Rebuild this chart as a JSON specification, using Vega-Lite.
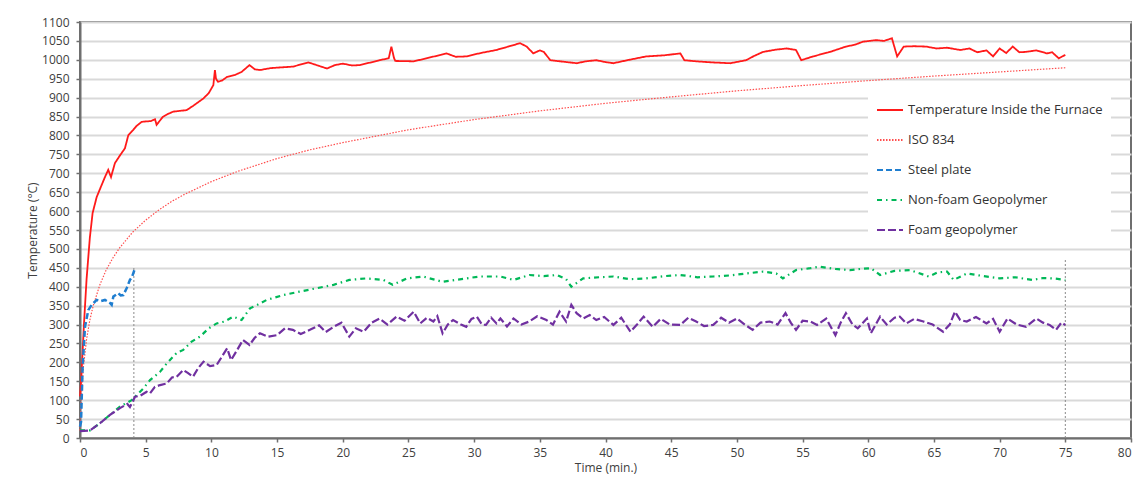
{
  "$schema": "https://vega.github.io/schema/vega-lite/v6.json",
  "width": 1051,
  "height": 416,
  "autosize": {"type": "none"},
  "padding": {"left": 80, "top": 22, "right": 6, "bottom": 42},
  "background": "white",
  "config": {
    "font": "Open Sans",
    "view": {"stroke": "#6f6f6f", "strokeWidth": 2},
    "axis": {"labelFont": "Open Sans", "labelFontSize": 12, "labelColor": "#404040", "titleFont": "Open Sans", "titleFontSize": 12, "titleFontWeight": "normal", "titleColor": "#404040", "domainColor": "#6f6f6f", "domainWidth": 2, "tickColor": "#6f6f6f", "tickSize": 4, "tickWidth": 1.5, "labelPadding": 5, "labelOverlap": false},
    "legend": {"orient": "none", "legendX": 788, "legendY": 66, "fillColor": "white", "padding": 8, "symbolType": "stroke", "symbolSize": 676, "symbolStrokeWidth": 2, "labelFont": "Open Sans", "labelFontSize": 13, "labelColor": "#333333", "rowPadding": 9, "labelOffset": 4, "labelLimit": 300}
  },
  "datasets": {
    "series": [
      {"t": 0, "v": 110, "s": "Temperature Inside the Furnace"},
      {"t": 0.1, "v": 160, "s": "Temperature Inside the Furnace"},
      {"t": 0.3, "v": 300, "s": "Temperature Inside the Furnace"},
      {"t": 0.5, "v": 420, "s": "Temperature Inside the Furnace"},
      {"t": 0.75, "v": 530, "s": "Temperature Inside the Furnace"},
      {"t": 0.96, "v": 595, "s": "Temperature Inside the Furnace"},
      {"t": 1.27, "v": 637, "s": "Temperature Inside the Furnace"},
      {"t": 1.6, "v": 665, "s": "Temperature Inside the Furnace"},
      {"t": 1.9, "v": 690, "s": "Temperature Inside the Furnace"},
      {"t": 2.15, "v": 709, "s": "Temperature Inside the Furnace"},
      {"t": 2.36, "v": 690, "s": "Temperature Inside the Furnace"},
      {"t": 2.66, "v": 727, "s": "Temperature Inside the Furnace"},
      {"t": 3.0, "v": 745, "s": "Temperature Inside the Furnace"},
      {"t": 3.42, "v": 766, "s": "Temperature Inside the Furnace"},
      {"t": 3.68, "v": 801, "s": "Temperature Inside the Furnace"},
      {"t": 4.06, "v": 815, "s": "Temperature Inside the Furnace"},
      {"t": 4.3, "v": 825, "s": "Temperature Inside the Furnace"},
      {"t": 4.69, "v": 836, "s": "Temperature Inside the Furnace"},
      {"t": 5.0, "v": 837, "s": "Temperature Inside the Furnace"},
      {"t": 5.4, "v": 838, "s": "Temperature Inside the Furnace"},
      {"t": 5.71, "v": 843, "s": "Temperature Inside the Furnace"},
      {"t": 5.83, "v": 828, "s": "Temperature Inside the Furnace"},
      {"t": 6.3, "v": 849, "s": "Temperature Inside the Furnace"},
      {"t": 6.7, "v": 857, "s": "Temperature Inside the Furnace"},
      {"t": 7.1, "v": 863, "s": "Temperature Inside the Furnace"},
      {"t": 7.6, "v": 865, "s": "Temperature Inside the Furnace"},
      {"t": 8.12, "v": 867, "s": "Temperature Inside the Furnace"},
      {"t": 8.6, "v": 878, "s": "Temperature Inside the Furnace"},
      {"t": 9.0, "v": 888, "s": "Temperature Inside the Furnace"},
      {"t": 9.4, "v": 898, "s": "Temperature Inside the Furnace"},
      {"t": 9.8, "v": 912, "s": "Temperature Inside the Furnace"},
      {"t": 10.15, "v": 933, "s": "Temperature Inside the Furnace"},
      {"t": 10.27, "v": 973, "s": "Temperature Inside the Furnace"},
      {"t": 10.35, "v": 950, "s": "Temperature Inside the Furnace"},
      {"t": 10.5, "v": 942, "s": "Temperature Inside the Furnace"},
      {"t": 10.8, "v": 945, "s": "Temperature Inside the Furnace"},
      {"t": 11.2, "v": 955, "s": "Temperature Inside the Furnace"},
      {"t": 11.8, "v": 960, "s": "Temperature Inside the Furnace"},
      {"t": 12.3, "v": 968, "s": "Temperature Inside the Furnace"},
      {"t": 12.9, "v": 986, "s": "Temperature Inside the Furnace"},
      {"t": 13.3, "v": 975, "s": "Temperature Inside the Furnace"},
      {"t": 13.7, "v": 973, "s": "Temperature Inside the Furnace"},
      {"t": 14.5, "v": 978, "s": "Temperature Inside the Furnace"},
      {"t": 15.3, "v": 980, "s": "Temperature Inside the Furnace"},
      {"t": 16.2, "v": 982, "s": "Temperature Inside the Furnace"},
      {"t": 17.4, "v": 993, "s": "Temperature Inside the Furnace"},
      {"t": 18.1, "v": 985, "s": "Temperature Inside the Furnace"},
      {"t": 18.8, "v": 977, "s": "Temperature Inside the Furnace"},
      {"t": 19.4, "v": 986, "s": "Temperature Inside the Furnace"},
      {"t": 20.0, "v": 990, "s": "Temperature Inside the Furnace"},
      {"t": 20.7, "v": 985, "s": "Temperature Inside the Furnace"},
      {"t": 21.3, "v": 986, "s": "Temperature Inside the Furnace"},
      {"t": 22.0, "v": 992, "s": "Temperature Inside the Furnace"},
      {"t": 22.8, "v": 999, "s": "Temperature Inside the Furnace"},
      {"t": 23.5, "v": 1004, "s": "Temperature Inside the Furnace"},
      {"t": 23.7, "v": 1035, "s": "Temperature Inside the Furnace"},
      {"t": 23.9, "v": 1005, "s": "Temperature Inside the Furnace"},
      {"t": 24.0, "v": 997, "s": "Temperature Inside the Furnace"},
      {"t": 25.4, "v": 996, "s": "Temperature Inside the Furnace"},
      {"t": 26.5, "v": 1005, "s": "Temperature Inside the Furnace"},
      {"t": 27.9, "v": 1017, "s": "Temperature Inside the Furnace"},
      {"t": 28.6, "v": 1008, "s": "Temperature Inside the Furnace"},
      {"t": 29.4, "v": 1009, "s": "Temperature Inside the Furnace"},
      {"t": 30.5, "v": 1018, "s": "Temperature Inside the Furnace"},
      {"t": 31.7, "v": 1026, "s": "Temperature Inside the Furnace"},
      {"t": 32.6, "v": 1035, "s": "Temperature Inside the Furnace"},
      {"t": 33.5, "v": 1044, "s": "Temperature Inside the Furnace"},
      {"t": 34.0, "v": 1035, "s": "Temperature Inside the Furnace"},
      {"t": 34.5, "v": 1017, "s": "Temperature Inside the Furnace"},
      {"t": 35.0, "v": 1025, "s": "Temperature Inside the Furnace"},
      {"t": 35.3, "v": 1021, "s": "Temperature Inside the Furnace"},
      {"t": 35.8, "v": 999, "s": "Temperature Inside the Furnace"},
      {"t": 36.8, "v": 995, "s": "Temperature Inside the Furnace"},
      {"t": 37.8, "v": 991, "s": "Temperature Inside the Furnace"},
      {"t": 38.5, "v": 996, "s": "Temperature Inside the Furnace"},
      {"t": 39.3, "v": 999, "s": "Temperature Inside the Furnace"},
      {"t": 40.0, "v": 994, "s": "Temperature Inside the Furnace"},
      {"t": 40.6, "v": 991, "s": "Temperature Inside the Furnace"},
      {"t": 41.8, "v": 1000, "s": "Temperature Inside the Furnace"},
      {"t": 43.1, "v": 1009, "s": "Temperature Inside the Furnace"},
      {"t": 44.5, "v": 1012, "s": "Temperature Inside the Furnace"},
      {"t": 45.7, "v": 1017, "s": "Temperature Inside the Furnace"},
      {"t": 46.0, "v": 999, "s": "Temperature Inside the Furnace"},
      {"t": 46.9, "v": 996, "s": "Temperature Inside the Furnace"},
      {"t": 48.2, "v": 993, "s": "Temperature Inside the Furnace"},
      {"t": 49.5, "v": 991, "s": "Temperature Inside the Furnace"},
      {"t": 50.7, "v": 999, "s": "Temperature Inside the Furnace"},
      {"t": 51.3, "v": 1010, "s": "Temperature Inside the Furnace"},
      {"t": 52.0, "v": 1021, "s": "Temperature Inside the Furnace"},
      {"t": 53.0, "v": 1027, "s": "Temperature Inside the Furnace"},
      {"t": 53.8, "v": 1030, "s": "Temperature Inside the Furnace"},
      {"t": 54.5, "v": 1026, "s": "Temperature Inside the Furnace"},
      {"t": 54.9, "v": 999, "s": "Temperature Inside the Furnace"},
      {"t": 55.8, "v": 1009, "s": "Temperature Inside the Furnace"},
      {"t": 57.1, "v": 1021, "s": "Temperature Inside the Furnace"},
      {"t": 58.3, "v": 1035, "s": "Temperature Inside the Furnace"},
      {"t": 59.0, "v": 1040, "s": "Temperature Inside the Furnace"},
      {"t": 59.6, "v": 1048, "s": "Temperature Inside the Furnace"},
      {"t": 60.6, "v": 1052, "s": "Temperature Inside the Furnace"},
      {"t": 61.2, "v": 1050, "s": "Temperature Inside the Furnace"},
      {"t": 61.8, "v": 1057, "s": "Temperature Inside the Furnace"},
      {"t": 62.2, "v": 1009, "s": "Temperature Inside the Furnace"},
      {"t": 62.7, "v": 1035, "s": "Temperature Inside the Furnace"},
      {"t": 63.5, "v": 1036, "s": "Temperature Inside the Furnace"},
      {"t": 64.4, "v": 1035, "s": "Temperature Inside the Furnace"},
      {"t": 65.2, "v": 1030, "s": "Temperature Inside the Furnace"},
      {"t": 66.0, "v": 1032, "s": "Temperature Inside the Furnace"},
      {"t": 67.0, "v": 1026, "s": "Temperature Inside the Furnace"},
      {"t": 67.7, "v": 1030, "s": "Temperature Inside the Furnace"},
      {"t": 68.3, "v": 1020, "s": "Temperature Inside the Furnace"},
      {"t": 69.0, "v": 1025, "s": "Temperature Inside the Furnace"},
      {"t": 69.5, "v": 1009, "s": "Temperature Inside the Furnace"},
      {"t": 70.0, "v": 1030, "s": "Temperature Inside the Furnace"},
      {"t": 70.5, "v": 1018, "s": "Temperature Inside the Furnace"},
      {"t": 71.0, "v": 1035, "s": "Temperature Inside the Furnace"},
      {"t": 71.5, "v": 1020, "s": "Temperature Inside the Furnace"},
      {"t": 72.0, "v": 1021, "s": "Temperature Inside the Furnace"},
      {"t": 72.8, "v": 1025, "s": "Temperature Inside the Furnace"},
      {"t": 73.6, "v": 1017, "s": "Temperature Inside the Furnace"},
      {"t": 74.0, "v": 1020, "s": "Temperature Inside the Furnace"},
      {"t": 74.5, "v": 1004, "s": "Temperature Inside the Furnace"},
      {"t": 75.0, "v": 1013, "s": "Temperature Inside the Furnace"},

      {"t": 0, "v": 20, "s": "ISO 834"},
      {"t": 0.05, "v": 70, "s": "ISO 834"},
      {"t": 0.1, "v": 108, "s": "ISO 834"},
      {"t": 0.25, "v": 185, "s": "ISO 834"},
      {"t": 0.5, "v": 261, "s": "ISO 834"},
      {"t": 0.75, "v": 312, "s": "ISO 834"},
      {"t": 1, "v": 349, "s": "ISO 834"},
      {"t": 1.5, "v": 404, "s": "ISO 834"},
      {"t": 2, "v": 445, "s": "ISO 834"},
      {"t": 2.5, "v": 476, "s": "ISO 834"},
      {"t": 3, "v": 502, "s": "ISO 834"},
      {"t": 4, "v": 544, "s": "ISO 834"},
      {"t": 5, "v": 576, "s": "ISO 834"},
      {"t": 6, "v": 603, "s": "ISO 834"},
      {"t": 7, "v": 626, "s": "ISO 834"},
      {"t": 8, "v": 645, "s": "ISO 834"},
      {"t": 10, "v": 678, "s": "ISO 834"},
      {"t": 12, "v": 705, "s": "ISO 834"},
      {"t": 15, "v": 739, "s": "ISO 834"},
      {"t": 17.5, "v": 762, "s": "ISO 834"},
      {"t": 20, "v": 781, "s": "ISO 834"},
      {"t": 25, "v": 815, "s": "ISO 834"},
      {"t": 30, "v": 842, "s": "ISO 834"},
      {"t": 35, "v": 865, "s": "ISO 834"},
      {"t": 40, "v": 885, "s": "ISO 834"},
      {"t": 45, "v": 902, "s": "ISO 834"},
      {"t": 50, "v": 918, "s": "ISO 834"},
      {"t": 55, "v": 932, "s": "ISO 834"},
      {"t": 60, "v": 945, "s": "ISO 834"},
      {"t": 65, "v": 957, "s": "ISO 834"},
      {"t": 70, "v": 968, "s": "ISO 834"},
      {"t": 75, "v": 979, "s": "ISO 834"},

      {"t": 0, "v": 30, "s": "Steel plate"},
      {"t": 0.08, "v": 43, "s": "Steel plate"},
      {"t": 0.2, "v": 189, "s": "Steel plate"},
      {"t": 0.38, "v": 294, "s": "Steel plate"},
      {"t": 0.63, "v": 338, "s": "Steel plate"},
      {"t": 0.89, "v": 352, "s": "Steel plate"},
      {"t": 1.27, "v": 365, "s": "Steel plate"},
      {"t": 1.6, "v": 362, "s": "Steel plate"},
      {"t": 1.9, "v": 365, "s": "Steel plate"},
      {"t": 2.15, "v": 360, "s": "Steel plate"},
      {"t": 2.28, "v": 357, "s": "Steel plate"},
      {"t": 2.41, "v": 352, "s": "Steel plate"},
      {"t": 2.54, "v": 374, "s": "Steel plate"},
      {"t": 2.92, "v": 383, "s": "Steel plate"},
      {"t": 3.1, "v": 377, "s": "Steel plate"},
      {"t": 3.3, "v": 378, "s": "Steel plate"},
      {"t": 3.55, "v": 396, "s": "Steel plate"},
      {"t": 3.8, "v": 418, "s": "Steel plate"},
      {"t": 3.95, "v": 425, "s": "Steel plate"},
      {"t": 4.19, "v": 449, "s": "Steel plate"},

      {"t": 0, "v": 20, "s": "Non-foam Geopolymer"},
      {"t": 0.76, "v": 20, "s": "Non-foam Geopolymer"},
      {"t": 1.52, "v": 39, "s": "Non-foam Geopolymer"},
      {"t": 2.28, "v": 61, "s": "Non-foam Geopolymer"},
      {"t": 3.04, "v": 83, "s": "Non-foam Geopolymer"},
      {"t": 3.93, "v": 100, "s": "Non-foam Geopolymer"},
      {"t": 4.82, "v": 131, "s": "Non-foam Geopolymer"},
      {"t": 5.33, "v": 153, "s": "Non-foam Geopolymer"},
      {"t": 6.09, "v": 175, "s": "Non-foam Geopolymer"},
      {"t": 6.6, "v": 197, "s": "Non-foam Geopolymer"},
      {"t": 7.36, "v": 225, "s": "Non-foam Geopolymer"},
      {"t": 7.86, "v": 233, "s": "Non-foam Geopolymer"},
      {"t": 8.5, "v": 255, "s": "Non-foam Geopolymer"},
      {"t": 9.13, "v": 268, "s": "Non-foam Geopolymer"},
      {"t": 9.8, "v": 290, "s": "Non-foam Geopolymer"},
      {"t": 10.4, "v": 303, "s": "Non-foam Geopolymer"},
      {"t": 11.0, "v": 308, "s": "Non-foam Geopolymer"},
      {"t": 11.67, "v": 321, "s": "Non-foam Geopolymer"},
      {"t": 12.3, "v": 312, "s": "Non-foam Geopolymer"},
      {"t": 12.94, "v": 343, "s": "Non-foam Geopolymer"},
      {"t": 13.5, "v": 352, "s": "Non-foam Geopolymer"},
      {"t": 14.2, "v": 365, "s": "Non-foam Geopolymer"},
      {"t": 15.47, "v": 378, "s": "Non-foam Geopolymer"},
      {"t": 16.7, "v": 387, "s": "Non-foam Geopolymer"},
      {"t": 18.0, "v": 396, "s": "Non-foam Geopolymer"},
      {"t": 19.3, "v": 405, "s": "Non-foam Geopolymer"},
      {"t": 20.5, "v": 418, "s": "Non-foam Geopolymer"},
      {"t": 21.8, "v": 422, "s": "Non-foam Geopolymer"},
      {"t": 23.1, "v": 418, "s": "Non-foam Geopolymer"},
      {"t": 23.8, "v": 405, "s": "Non-foam Geopolymer"},
      {"t": 24.9, "v": 422, "s": "Non-foam Geopolymer"},
      {"t": 26.1, "v": 427, "s": "Non-foam Geopolymer"},
      {"t": 27.6, "v": 413, "s": "Non-foam Geopolymer"},
      {"t": 29.4, "v": 422, "s": "Non-foam Geopolymer"},
      {"t": 30.4, "v": 427, "s": "Non-foam Geopolymer"},
      {"t": 32.0, "v": 427, "s": "Non-foam Geopolymer"},
      {"t": 33.0, "v": 418, "s": "Non-foam Geopolymer"},
      {"t": 34.2, "v": 431, "s": "Non-foam Geopolymer"},
      {"t": 35.3, "v": 428, "s": "Non-foam Geopolymer"},
      {"t": 36.3, "v": 431, "s": "Non-foam Geopolymer"},
      {"t": 37.0, "v": 420, "s": "Non-foam Geopolymer"},
      {"t": 37.4, "v": 400, "s": "Non-foam Geopolymer"},
      {"t": 38.3, "v": 422, "s": "Non-foam Geopolymer"},
      {"t": 39.5, "v": 425, "s": "Non-foam Geopolymer"},
      {"t": 40.6, "v": 427, "s": "Non-foam Geopolymer"},
      {"t": 41.8, "v": 420, "s": "Non-foam Geopolymer"},
      {"t": 43.1, "v": 422, "s": "Non-foam Geopolymer"},
      {"t": 44.5, "v": 428, "s": "Non-foam Geopolymer"},
      {"t": 45.7, "v": 431, "s": "Non-foam Geopolymer"},
      {"t": 47.0, "v": 425, "s": "Non-foam Geopolymer"},
      {"t": 48.2, "v": 427, "s": "Non-foam Geopolymer"},
      {"t": 49.5, "v": 430, "s": "Non-foam Geopolymer"},
      {"t": 50.7, "v": 435, "s": "Non-foam Geopolymer"},
      {"t": 52.0, "v": 440, "s": "Non-foam Geopolymer"},
      {"t": 53.0, "v": 435, "s": "Non-foam Geopolymer"},
      {"t": 53.5, "v": 422, "s": "Non-foam Geopolymer"},
      {"t": 54.5, "v": 444, "s": "Non-foam Geopolymer"},
      {"t": 55.6, "v": 449, "s": "Non-foam Geopolymer"},
      {"t": 56.3, "v": 453, "s": "Non-foam Geopolymer"},
      {"t": 57.5, "v": 447, "s": "Non-foam Geopolymer"},
      {"t": 58.6, "v": 444, "s": "Non-foam Geopolymer"},
      {"t": 59.4, "v": 447, "s": "Non-foam Geopolymer"},
      {"t": 60.2, "v": 449, "s": "Non-foam Geopolymer"},
      {"t": 60.9, "v": 431, "s": "Non-foam Geopolymer"},
      {"t": 62.0, "v": 442, "s": "Non-foam Geopolymer"},
      {"t": 63.2, "v": 444, "s": "Non-foam Geopolymer"},
      {"t": 64.6, "v": 427, "s": "Non-foam Geopolymer"},
      {"t": 65.3, "v": 438, "s": "Non-foam Geopolymer"},
      {"t": 66.0, "v": 440, "s": "Non-foam Geopolymer"},
      {"t": 66.5, "v": 418, "s": "Non-foam Geopolymer"},
      {"t": 67.5, "v": 435, "s": "Non-foam Geopolymer"},
      {"t": 68.8, "v": 428, "s": "Non-foam Geopolymer"},
      {"t": 70.0, "v": 422, "s": "Non-foam Geopolymer"},
      {"t": 71.2, "v": 425, "s": "Non-foam Geopolymer"},
      {"t": 72.5, "v": 418, "s": "Non-foam Geopolymer"},
      {"t": 73.3, "v": 423, "s": "Non-foam Geopolymer"},
      {"t": 74.1, "v": 422, "s": "Non-foam Geopolymer"},
      {"t": 75.0, "v": 418, "s": "Non-foam Geopolymer"},

      {"t": 0, "v": 18, "s": "Foam geopolymer"},
      {"t": 0.76, "v": 20, "s": "Foam geopolymer"},
      {"t": 1.52, "v": 39, "s": "Foam geopolymer"},
      {"t": 2.28, "v": 61, "s": "Foam geopolymer"},
      {"t": 3.04, "v": 79, "s": "Foam geopolymer"},
      {"t": 3.6, "v": 90, "s": "Foam geopolymer"},
      {"t": 3.8, "v": 82, "s": "Foam geopolymer"},
      {"t": 4.19, "v": 109, "s": "Foam geopolymer"},
      {"t": 4.6, "v": 112, "s": "Foam geopolymer"},
      {"t": 5.07, "v": 122, "s": "Foam geopolymer"},
      {"t": 5.33, "v": 118, "s": "Foam geopolymer"},
      {"t": 5.7, "v": 135, "s": "Foam geopolymer"},
      {"t": 6.09, "v": 140, "s": "Foam geopolymer"},
      {"t": 6.6, "v": 144, "s": "Foam geopolymer"},
      {"t": 7.0, "v": 160, "s": "Foam geopolymer"},
      {"t": 7.36, "v": 162, "s": "Foam geopolymer"},
      {"t": 7.86, "v": 180, "s": "Foam geopolymer"},
      {"t": 8.2, "v": 172, "s": "Foam geopolymer"},
      {"t": 8.6, "v": 162, "s": "Foam geopolymer"},
      {"t": 9.0, "v": 185, "s": "Foam geopolymer"},
      {"t": 9.4, "v": 202, "s": "Foam geopolymer"},
      {"t": 9.9, "v": 190, "s": "Foam geopolymer"},
      {"t": 10.4, "v": 193, "s": "Foam geopolymer"},
      {"t": 10.8, "v": 215, "s": "Foam geopolymer"},
      {"t": 11.2, "v": 237, "s": "Foam geopolymer"},
      {"t": 11.5, "v": 206, "s": "Foam geopolymer"},
      {"t": 12.0, "v": 235, "s": "Foam geopolymer"},
      {"t": 12.4, "v": 259, "s": "Foam geopolymer"},
      {"t": 12.9, "v": 246, "s": "Foam geopolymer"},
      {"t": 13.3, "v": 265, "s": "Foam geopolymer"},
      {"t": 13.7, "v": 277, "s": "Foam geopolymer"},
      {"t": 14.3, "v": 268, "s": "Foam geopolymer"},
      {"t": 15.0, "v": 272, "s": "Foam geopolymer"},
      {"t": 15.6, "v": 290, "s": "Foam geopolymer"},
      {"t": 16.2, "v": 286, "s": "Foam geopolymer"},
      {"t": 16.8, "v": 275, "s": "Foam geopolymer"},
      {"t": 17.5, "v": 286, "s": "Foam geopolymer"},
      {"t": 18.2, "v": 298, "s": "Foam geopolymer"},
      {"t": 18.7, "v": 280, "s": "Foam geopolymer"},
      {"t": 19.3, "v": 294, "s": "Foam geopolymer"},
      {"t": 19.9, "v": 305, "s": "Foam geopolymer"},
      {"t": 20.5, "v": 268, "s": "Foam geopolymer"},
      {"t": 21.0, "v": 290, "s": "Foam geopolymer"},
      {"t": 21.6, "v": 281, "s": "Foam geopolymer"},
      {"t": 22.2, "v": 305, "s": "Foam geopolymer"},
      {"t": 22.8, "v": 316, "s": "Foam geopolymer"},
      {"t": 23.4, "v": 300, "s": "Foam geopolymer"},
      {"t": 24.1, "v": 321, "s": "Foam geopolymer"},
      {"t": 24.7, "v": 310, "s": "Foam geopolymer"},
      {"t": 25.4, "v": 334, "s": "Foam geopolymer"},
      {"t": 25.9, "v": 303, "s": "Foam geopolymer"},
      {"t": 26.4, "v": 318, "s": "Foam geopolymer"},
      {"t": 26.9, "v": 308, "s": "Foam geopolymer"},
      {"t": 27.2, "v": 322, "s": "Foam geopolymer"},
      {"t": 27.6, "v": 277, "s": "Foam geopolymer"},
      {"t": 28.0, "v": 300, "s": "Foam geopolymer"},
      {"t": 28.4, "v": 312, "s": "Foam geopolymer"},
      {"t": 29.0, "v": 300, "s": "Foam geopolymer"},
      {"t": 29.4, "v": 294, "s": "Foam geopolymer"},
      {"t": 29.8, "v": 315, "s": "Foam geopolymer"},
      {"t": 30.2, "v": 321, "s": "Foam geopolymer"},
      {"t": 30.6, "v": 300, "s": "Foam geopolymer"},
      {"t": 30.9, "v": 299, "s": "Foam geopolymer"},
      {"t": 31.3, "v": 318, "s": "Foam geopolymer"},
      {"t": 31.7, "v": 303, "s": "Foam geopolymer"},
      {"t": 32.0, "v": 316, "s": "Foam geopolymer"},
      {"t": 32.5, "v": 295, "s": "Foam geopolymer"},
      {"t": 33.0, "v": 316, "s": "Foam geopolymer"},
      {"t": 33.6, "v": 300, "s": "Foam geopolymer"},
      {"t": 34.2, "v": 308, "s": "Foam geopolymer"},
      {"t": 34.8, "v": 322, "s": "Foam geopolymer"},
      {"t": 35.5, "v": 312, "s": "Foam geopolymer"},
      {"t": 36.0, "v": 300, "s": "Foam geopolymer"},
      {"t": 36.5, "v": 334, "s": "Foam geopolymer"},
      {"t": 37.0, "v": 308, "s": "Foam geopolymer"},
      {"t": 37.4, "v": 352, "s": "Foam geopolymer"},
      {"t": 37.8, "v": 330, "s": "Foam geopolymer"},
      {"t": 38.3, "v": 316, "s": "Foam geopolymer"},
      {"t": 38.8, "v": 325, "s": "Foam geopolymer"},
      {"t": 39.3, "v": 312, "s": "Foam geopolymer"},
      {"t": 39.9, "v": 320, "s": "Foam geopolymer"},
      {"t": 40.6, "v": 299, "s": "Foam geopolymer"},
      {"t": 41.2, "v": 318, "s": "Foam geopolymer"},
      {"t": 41.9, "v": 281, "s": "Foam geopolymer"},
      {"t": 42.4, "v": 300, "s": "Foam geopolymer"},
      {"t": 42.9, "v": 321, "s": "Foam geopolymer"},
      {"t": 43.6, "v": 294, "s": "Foam geopolymer"},
      {"t": 44.2, "v": 315, "s": "Foam geopolymer"},
      {"t": 44.9, "v": 300, "s": "Foam geopolymer"},
      {"t": 45.7, "v": 299, "s": "Foam geopolymer"},
      {"t": 46.3, "v": 318, "s": "Foam geopolymer"},
      {"t": 46.9, "v": 308, "s": "Foam geopolymer"},
      {"t": 47.5, "v": 296, "s": "Foam geopolymer"},
      {"t": 48.2, "v": 299, "s": "Foam geopolymer"},
      {"t": 48.8, "v": 318, "s": "Foam geopolymer"},
      {"t": 49.4, "v": 305, "s": "Foam geopolymer"},
      {"t": 50.0, "v": 316, "s": "Foam geopolymer"},
      {"t": 50.6, "v": 300, "s": "Foam geopolymer"},
      {"t": 51.2, "v": 286, "s": "Foam geopolymer"},
      {"t": 51.8, "v": 305, "s": "Foam geopolymer"},
      {"t": 52.5, "v": 308, "s": "Foam geopolymer"},
      {"t": 53.1, "v": 300, "s": "Foam geopolymer"},
      {"t": 53.7, "v": 330, "s": "Foam geopolymer"},
      {"t": 54.1, "v": 305, "s": "Foam geopolymer"},
      {"t": 54.5, "v": 286, "s": "Foam geopolymer"},
      {"t": 55.0, "v": 310, "s": "Foam geopolymer"},
      {"t": 55.6, "v": 308, "s": "Foam geopolymer"},
      {"t": 56.1, "v": 299, "s": "Foam geopolymer"},
      {"t": 56.8, "v": 316, "s": "Foam geopolymer"},
      {"t": 57.5, "v": 272, "s": "Foam geopolymer"},
      {"t": 57.9, "v": 305, "s": "Foam geopolymer"},
      {"t": 58.3, "v": 330, "s": "Foam geopolymer"},
      {"t": 58.8, "v": 300, "s": "Foam geopolymer"},
      {"t": 59.2, "v": 290, "s": "Foam geopolymer"},
      {"t": 59.9, "v": 316, "s": "Foam geopolymer"},
      {"t": 60.2, "v": 277, "s": "Foam geopolymer"},
      {"t": 60.9, "v": 321, "s": "Foam geopolymer"},
      {"t": 61.4, "v": 300, "s": "Foam geopolymer"},
      {"t": 62.0, "v": 318, "s": "Foam geopolymer"},
      {"t": 62.4, "v": 321, "s": "Foam geopolymer"},
      {"t": 62.9, "v": 303, "s": "Foam geopolymer"},
      {"t": 63.5, "v": 315, "s": "Foam geopolymer"},
      {"t": 64.2, "v": 308, "s": "Foam geopolymer"},
      {"t": 64.9, "v": 300, "s": "Foam geopolymer"},
      {"t": 65.7, "v": 281, "s": "Foam geopolymer"},
      {"t": 66.2, "v": 300, "s": "Foam geopolymer"},
      {"t": 66.6, "v": 334, "s": "Foam geopolymer"},
      {"t": 67.0, "v": 312, "s": "Foam geopolymer"},
      {"t": 67.5, "v": 308, "s": "Foam geopolymer"},
      {"t": 68.2, "v": 320, "s": "Foam geopolymer"},
      {"t": 69.0, "v": 303, "s": "Foam geopolymer"},
      {"t": 69.5, "v": 315, "s": "Foam geopolymer"},
      {"t": 70.0, "v": 281, "s": "Foam geopolymer"},
      {"t": 70.6, "v": 316, "s": "Foam geopolymer"},
      {"t": 71.3, "v": 300, "s": "Foam geopolymer"},
      {"t": 72.0, "v": 294, "s": "Foam geopolymer"},
      {"t": 72.8, "v": 316, "s": "Foam geopolymer"},
      {"t": 73.3, "v": 305, "s": "Foam geopolymer"},
      {"t": 73.8, "v": 299, "s": "Foam geopolymer"},
      {"t": 74.3, "v": 286, "s": "Foam geopolymer"},
      {"t": 74.7, "v": 305, "s": "Foam geopolymer"},
      {"t": 75.0, "v": 299, "s": "Foam geopolymer"}
    ],
    "markers": [
      {"t": 4.1, "v": 0, "v2": 455},
      {"t": 75, "v": 0, "v2": 475}
    ]
  },
  "encoding": {
    "x": {"field": "t", "type": "quantitative", "title": "Time (min.)", "scale": {"domain": [0, 80], "nice": false}, "axis": {"values": [0,5,10,15,20,25,30,35,40,45,50,55,60,65,70,75,80], "grid": false, "titlePadding": 4, "format": "d"}},
    "y": {"field": "v", "type": "quantitative", "title": "Temperature (°C)", "scale": {"domain": [0, 1100], "nice": false}, "axis": {"values": [0,50,100,150,200,250,300,350,400,450,500,550,600,650,700,750,800,850,900,950,1000,1050,1100], "format": "d", "grid": true, "gridColor": "#d9d9d9", "gridWidth": 2, "titlePadding": 2, "labelPadding": 7}}
  },
  "layer": [
    {
      "data": {"name": "markers"},
      "mark": {"type": "rule", "color": "#8a8a8a", "strokeWidth": 1, "strokeDash": [2, 2]},
      "encoding": {
        "y2": {"field": "v2"}
      }
    },
    {
      "data": {"name": "series"},
      "transform": [{"filter": "datum.s === 'Temperature Inside the Furnace'"}],
      "mark": {"type": "line", "strokeWidth": 1.8},
      "encoding": {
        "color": {"field": "s", "type": "nominal", "title": null, "scale": {"domain": ["Temperature Inside the Furnace", "ISO 834", "Steel plate", "Non-foam Geopolymer", "Foam geopolymer"], "range": ["#ff1a1a", "#ff4d4d", "#1f7ed0", "#00b858", "#7030a0"]}},
        "strokeDash": {"field": "s", "type": "nominal", "title": null, "scale": {"domain": ["Temperature Inside the Furnace", "ISO 834", "Steel plate", "Non-foam Geopolymer", "Foam geopolymer"], "range": [[1, 0], [1.5, 1.5], [6, 3], [5, 4, 1.5, 4], [8, 3]]}},
        "order": {"field": "t", "type": "quantitative"}
      }
    },
    {
      "data": {"name": "series"},
      "transform": [{"filter": "datum.s === 'ISO 834'"}],
      "mark": {"type": "line", "strokeWidth": 1.2},
      "encoding": {
        "color": {"field": "s", "type": "nominal", "title": null},
        "strokeDash": {"field": "s", "type": "nominal", "title": null},
        "order": {"field": "t", "type": "quantitative"}
      }
    },
    {
      "data": {"name": "series"},
      "transform": [{"filter": "datum.s === 'Steel plate'"}],
      "mark": {"type": "line", "strokeWidth": 2.5},
      "encoding": {
        "color": {"field": "s", "type": "nominal", "title": null},
        "strokeDash": {"field": "s", "type": "nominal", "title": null},
        "order": {"field": "t", "type": "quantitative"}
      }
    },
    {
      "data": {"name": "series"},
      "transform": [{"filter": "datum.s === 'Non-foam Geopolymer'"}],
      "mark": {"type": "line", "strokeWidth": 2.2},
      "encoding": {
        "color": {"field": "s", "type": "nominal", "title": null},
        "strokeDash": {"field": "s", "type": "nominal", "title": null},
        "order": {"field": "t", "type": "quantitative"}
      }
    },
    {
      "data": {"name": "series"},
      "transform": [{"filter": "datum.s === 'Foam geopolymer'"}],
      "mark": {"type": "line", "strokeWidth": 2.2},
      "encoding": {
        "color": {"field": "s", "type": "nominal", "title": null},
        "strokeDash": {"field": "s", "type": "nominal", "title": null},
        "order": {"field": "t", "type": "quantitative"}
      }
    }
  ]
}
